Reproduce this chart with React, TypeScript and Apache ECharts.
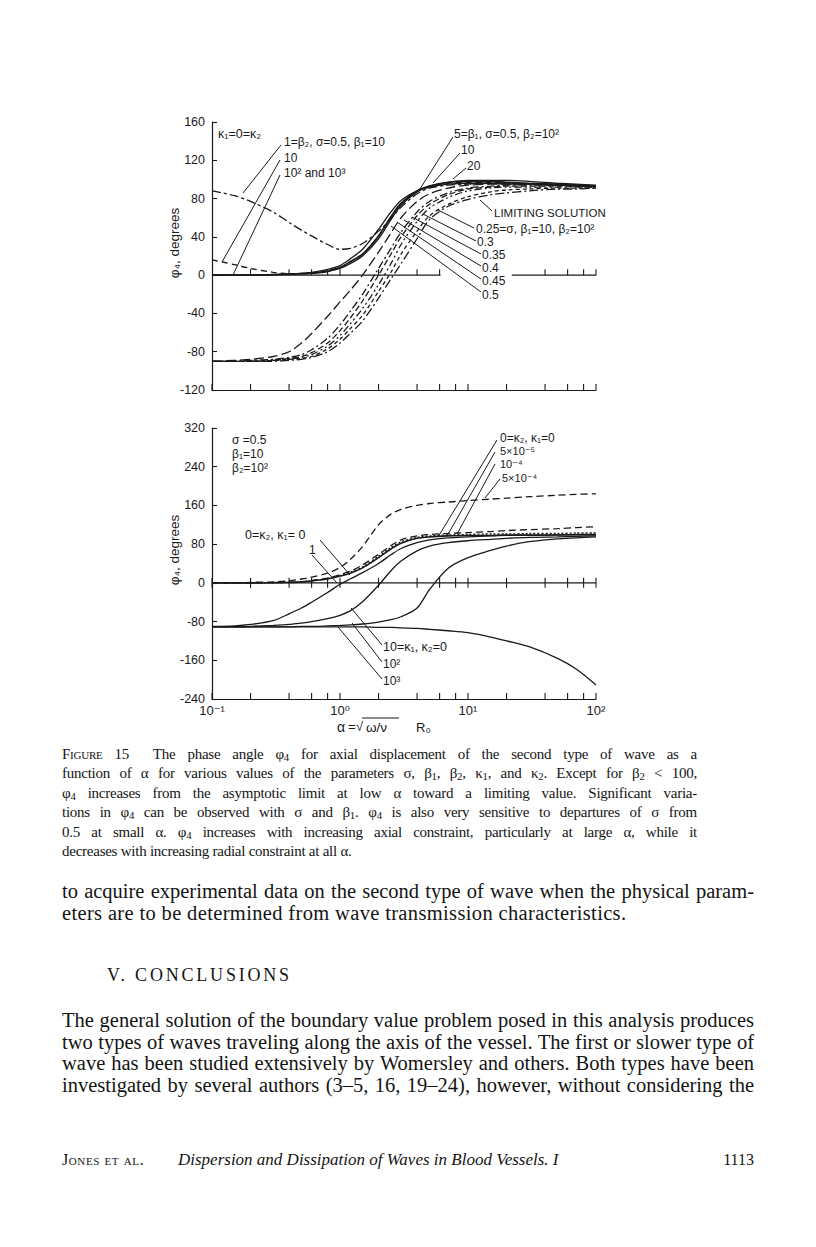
import React, { useEffect, useRef } from 'react';
import * as echarts from 'echarts';

// ---------- data (alpha sample points shared by every curve) ----------
const ALPHA = [0.1, 0.15, 0.2, 0.3, 0.4, 0.5, 0.6, 0.8, 1, 1.2, 1.5, 2, 2.5, 3, 4, 5, 7, 10, 15, 20, 30, 50, 70, 100];

// upper panel: kappa1 = 0 = kappa2
const TOP_BETA2_1 = [88, 83, 77, 66, 55, 47, 41, 32, 27, 28, 33, 46, 59, 71, 85, 91, 94, 95, 96, 96, 95, 94, 94, 93];
const TOP_BETA2_10 = [16, 11, 7, 3, 1.5, 1.5, 2, 5, 8, 14, 22, 41, 61, 75, 88, 92, 96, 97, 97, 96, 95, 94, 93, 92];
const TOP_MAIN = [0, 0, 0, 0.5, 1, 1.5, 2, 4, 8, 14, 22, 41, 61, 75, 88, 93, 97, 98, 98, 97, 96, 95, 94, 93];
const TOP_BETA1_5 = [0, 0, 0, 0.5, 1, 2, 3, 6, 10, 17, 27, 48, 66, 78, 88, 92, 95, 96, 96, 95, 95, 94, 93, 92];
const TOP_BETA1_20 = [0, 0, 0, 0.5, 1, 1.5, 2, 4, 7, 12, 20, 38, 58, 73, 87, 93, 97, 99, 99, 99, 98, 96, 95, 94];
const TOP_SIGMA_045 = [-90, -89, -88, -85, -80, -71, -61, -43, -28, -16, 0, 24, 44, 60, 77, 85, 91, 94, 95, 95, 95, 94, 94, 93];
const TOP_SIGMA_040 = [-90, -90, -89, -88, -86, -83, -78, -66, -52, -38, -20, 7, 28, 45, 66, 77, 86, 91, 93, 94, 94, 94, 93, 93];
const TOP_SIGMA_035 = [-90, -90, -90, -89, -87, -85, -81, -71, -58, -45, -27, 0, 22, 40, 62, 74, 84, 90, 92, 93, 93, 93, 93, 92];
const TOP_SIGMA_030 = [-90, -90, -90, -89, -88, -86, -83, -74, -63, -51, -35, -10, 12, 32, 56, 70, 81, 88, 91, 92, 92, 92, 92, 92];
const TOP_SIGMA_025 = [-90, -90, -90, -89, -88, -87, -85, -77, -67, -56, -42, -17, 3, 22, 46, 62, 74, 82, 87, 89, 90, 91, 91, 91];
const TOP_LIMITING = [-90, -90, -90, -90, -89, -88, -86, -80, -71, -61, -48, -24, -4, 12, 38, 58, 72, 79, 84, 86, 88, 90, 90, 91];

// lower panel: sigma = 0.5, beta1 = 10, beta2 = 10^2
const BOT_MAIN = [0, 0, 0, 0.5, 1, 2, 4, 8, 14, 20, 31, 52, 70, 82, 92, 95, 97, 98, 98, 99, 99, 99, 100, 100];
const BOT_K2_5E5 = [0, 0, 0, 0.5, 1, 2, 4, 9, 15, 22, 33, 55, 73, 85, 94, 97, 99, 100, 101, 101, 102, 102, 103, 103];
const BOT_K2_1E4 = [0, 0, 0, 0.5, 1, 2, 5, 10, 17, 24, 37, 59, 77, 89, 97, 100, 102, 104, 106, 108, 110, 112, 114, 116];
const BOT_K2_5E4 = [0, 0, 1, 2, 4, 8, 12, 20, 32, 48, 75, 120, 142, 152, 160, 164, 167, 170, 173, 175, 178, 181, 183, 184];
const BOT_K1_1 = [-90, -89, -86, -78, -64, -52, -40, -20, -3, 8, 21, 40, 58, 71, 83, 89, 93, 95, 97, 98, 98, 99, 99, 99];
const BOT_K1_10 = [-91, -91, -90, -88, -86, -83, -80, -74, -67, -58, -39, -5, 25, 45, 66, 76, 83, 87, 90, 92, 94, 95, 96, 97];
const BOT_K1_100 = [-91, -91, -91, -91, -91, -90, -90, -89, -88, -87, -85, -81, -76, -70, -52, -14, 30, 52, 67, 76, 85, 91, 93, 95];
const BOT_K1_1000 = [-91, -91, -91, -91, -91, -91, -91, -91, -91, -91, -91, -92, -92, -93, -94, -96, -99, -103, -112, -120, -132, -156, -178, -211];

// axis ticks (alpha positions) and tick labels
const TICK_ALPHAS = [0.1, 0.2, 0.4, 0.6, 0.8, 1, 2, 4, 6, 8, 10, 20, 40, 60, 80, 100];
const TOP_ZERO_TICKS = [0.2, 0.4, 0.6, 0.8, 1, 2, 4, 6, 40, 60, 80, 100];
const TOP_ZERO_SEGMENTS = [[0.1, 0, 6.1], [22, 0, 100]];
const BOT_ZERO_SEGMENTS = [[0.1, 0, 100]];
const X_TICK_LABELS: Record<string, string> = { '-1': '10⁻¹', '0': '10⁰', '1': '10¹', '2': '10²' };
const TOP_Y = { min: -120, max: 160, step: 40 };
const BOT_Y = { min: -240, max: 320, step: 80 };

// ---------- styling ----------
const INK = '#1a1a1a';
const SANS = '"Liberation Sans", "DejaVu Sans", Arial, sans-serif';
const SERIF = '"Liberation Serif", "DejaVu Serif", "Times New Roman", serif';

const pairs = (vals: number[]) => ALPHA.map((a, i) => [a, vals[i]]);

function curve(vals: number[], idx: number, dash: any, width = 1.3) {
  return {
    type: 'line',
    xAxisIndex: idx,
    yAxisIndex: idx,
    data: pairs(vals),
    showSymbol: false,
    smooth: 0.3,
    silent: true,
    clip: true,
    lineStyle: { color: INK, width, type: dash },
    z: 3,
  };
}

function ticks(idx: number, alphas: number[], yv: number, up: number, down: number) {
  return {
    type: 'custom',
    xAxisIndex: idx,
    yAxisIndex: idx,
    silent: true,
    clip: false,
    encode: { x: 0, y: 1 },
    data: alphas.map((a) => [a, yv]),
    renderItem: (_p: any, api: any) => {
      const p = api.coord([api.value(0), api.value(1)]);
      return {
        type: 'line',
        shape: { x1: p[0], y1: p[1] + down, x2: p[0], y2: p[1] - up },
        style: { stroke: INK, lineWidth: 1.1 },
      };
    },
    z: 4,
  };
}

function segments(idx: number, segs: number[][]) {
  return {
    type: 'custom',
    xAxisIndex: idx,
    yAxisIndex: idx,
    silent: true,
    clip: false,
    encode: { x: 0, y: 1 },
    data: segs,
    renderItem: (_p: any, api: any) => {
      const a = api.coord([api.value(0), api.value(1)]);
      const b = api.coord([api.value(2), api.value(1)]);
      return {
        type: 'line',
        shape: { x1: a[0], y1: a[1], x2: b[0], y2: b[1] },
        style: { stroke: INK, lineWidth: 1.2 },
      };
    },
    z: 4,
  };
}

function xAxis(idx: number, labels: boolean) {
  return {
    type: 'log',
    logBase: 10,
    gridIndex: idx,
    min: 0.1,
    max: 100,
    axisLine: { show: true, onZero: false, lineStyle: { color: INK, width: 1.2 } },
    axisTick: { show: false },
    minorTick: { show: false },
    splitLine: { show: false },
    minorSplitLine: { show: false },
    axisLabel: {
      show: labels,
      color: INK,
      fontFamily: SANS,
      fontSize: 13,
      margin: 5,
      formatter: (v: number) => X_TICK_LABELS[String(Math.round(Math.log10(v)))] || '',
    },
  };
}

function yAxis(idx: number, r: { min: number; max: number; step: number }) {
  return {
    type: 'value',
    gridIndex: idx,
    min: r.min,
    max: r.max,
    interval: r.step,
    axisLine: { show: true, onZero: false, lineStyle: { color: INK, width: 1.2 } },
    axisTick: { show: true, inside: true, length: 5, lineStyle: { color: INK, width: 1.1 } },
    splitLine: { show: false },
    axisLabel: { color: INK, fontFamily: SANS, fontSize: 12.5, margin: 7 },
  };
}

// annotation texts [text, x, y, fontSize]
const TOP_NOTES: [string, number, number, number][] = [
  ['κ₁=0=κ₂', 218, 134, 12.5],
  ['1=β₂, σ=0.5, β₁=10', 284, 142, 12],
  ['10', 284, 158, 12],
  ['10² and 10³', 284, 173, 12],
  ['5=β₁, σ=0.5, β₂=10²', 454, 134, 12],
  ['10', 461, 150, 12],
  ['20', 467, 166, 12],
  ['LIMITING SOLUTION', 494, 213, 11.5],
  ['0.25=σ, β₁=10, β₂=10²', 476, 229, 12],
  ['0.3', 477, 242, 12],
  ['0.35', 482, 255, 12],
  ['0.4', 482, 268, 12],
  ['0.45', 482, 281, 12],
  ['0.5', 482, 295, 12],
];
const BOT_NOTES: [string, number, number, number][] = [
  ['σ =0.5', 232, 440, 12],
  ['β₁=10', 232, 454, 12],
  ['β₂=10²', 232, 468, 12],
  ['0=κ₂, κ₁= 0', 245, 535, 12.5],
  ['1', 309, 550, 12],
  ['0=κ₂, κ₁=0', 500, 438, 12],
  ['5×10⁻⁵', 500, 451, 11],
  ['10⁻⁴', 500, 464, 11],
  ['5×10⁻⁴', 502, 478, 11],
  ['10=κ₁, κ₂=0', 383, 647, 12.5],
  ['10²', 383, 664, 12],
  ['10³', 383, 681, 12],
];
// leader lines [x1, y1, x2, y2]
const LEADERS: number[][] = [
  [281, 145, 243, 193],
  [280, 160, 222, 262],
  [280, 175, 233, 275],
  [453, 137, 418, 192],
  [460, 153, 433, 183],
  [466, 168, 453, 179],
  [492, 211, 480, 200],
  [474, 228, 438, 210],
  [476, 241, 423, 214],
  [481, 254, 412, 217],
  [481, 266, 404, 220],
  [481, 279, 397, 222],
  [481, 292, 391, 226],
  [320, 540, 350, 575],
  [312, 555, 337, 583],
  [497, 440, 438, 537],
  [495, 452, 447, 536],
  [495, 464, 457, 534],
  [500, 479, 485, 498],
  [382, 645, 351, 608],
  [382, 662, 352, 623],
  [382, 679, 338, 627],
];

function buildGraphic() {
  const g: any[] = [];
  const txt = (t: string, x: number, y: number, fs: number, extra: any = {}) =>
    g.push({
      type: 'text',
      x,
      y,
      silent: true,
      ...extra,
      style: { text: t, fill: INK, fontSize: fs, fontFamily: SANS, align: 'left', verticalAlign: 'middle', ...(extra.style || {}) },
    });
  [...TOP_NOTES, ...BOT_NOTES].forEach(([t, x, y, fs]) => txt(t, x, y, fs));
  LEADERS.forEach(([x1, y1, x2, y2]) =>
    g.push({ type: 'line', silent: true, shape: { x1, y1, x2, y2 }, style: { stroke: INK, lineWidth: 1 } })
  );
  // y-axis titles
  txt('φ₄, degrees', 174, 243, 13.5, { rotation: Math.PI / 2, style: { align: 'center' } });
  txt('φ₄, degrees', 174, 550, 13.5, { rotation: Math.PI / 2, style: { align: 'center' } });
  // x-axis title  alpha = sqrt(omega/nu) R0
  txt('α', 337, 727, 14);
  txt('=', 348, 726, 13);
  txt('√', 356, 726, 13);
  txt('ω/ν', 366, 727, 13.5);
  g.push({ type: 'line', silent: true, shape: { x1: 362, y1: 718, x2: 399, y2: 718 }, style: { stroke: INK, lineWidth: 1 } });
  txt('R₀', 416, 727, 13);
  return g;
}

// ---------- page text ----------
const Sub = ({ c }: { c: string }) => (
  <span style={{ fontSize: '0.72em', verticalAlign: '-0.18em', lineHeight: 0 }}>{c}</span>
);

const CAPTION_TOPS = [754, 773, 793, 812, 832, 851];
const BODY1_TOPS = [891, 913];
const BODY2_TOPS = [1020, 1042, 1063, 1085];

function Line({ y, left, width, size, lh, justify, align, children, style }: any) {
  const a = justify ? 'justify' : align || 'left';
  return (
    <div
      style={{
        position: 'absolute',
        left,
        top: y - lh / 2,
        width,
        height: lh,
        lineHeight: `${lh}px`,
        fontFamily: SERIF,
        fontSize: size,
        color: '#141414',
        textAlign: a,
        textAlignLast: a,
        whiteSpace: justify ? 'normal' : 'nowrap',
        ...(style || {}),
      }}
    >
      {children}
    </div>
  );
}

export default function App() {
  const ref = useRef<HTMLDivElement>(null);
  useEffect(() => {
    if (!ref.current) return;
    const chart = echarts.init(ref.current, undefined, { renderer: 'svg' });
    chart.setOption({
      animation: false,
      grid: [
        { left: 212, top: 122, width: 384, height: 268, containLabel: false, outerBoundsMode: 'none' },
        { left: 212, top: 428, width: 384, height: 271, containLabel: false, outerBoundsMode: 'none' },
      ],
      xAxis: [xAxis(0, false), xAxis(1, true)],
      yAxis: [yAxis(0, TOP_Y), yAxis(1, BOT_Y)],
      series: [
        curve(TOP_BETA2_1, 0, [9, 3, 3, 3]),
        curve(TOP_BETA2_10, 0, [6, 4]),
        curve(TOP_MAIN, 0, 'solid', 1.7),
        curve(TOP_BETA1_5, 0, 'solid'),
        curve(TOP_BETA1_20, 0, 'solid'),
        curve(TOP_SIGMA_045, 0, [10, 4]),
        curve(TOP_SIGMA_040, 0, [8, 3, 2, 3]),
        curve(TOP_SIGMA_035, 0, [6, 3]),
        curve(TOP_SIGMA_030, 0, [7, 3, 2, 3, 2, 3]),
        curve(TOP_SIGMA_025, 0, [4, 3]),
        curve(TOP_LIMITING, 0, [9, 3, 2, 3]),
        segments(0, TOP_ZERO_SEGMENTS),
        ticks(0, TOP_ZERO_TICKS, 0, 6, 0),
        ticks(0, TICK_ALPHAS, TOP_Y.min, 6, 0),

        curve(BOT_MAIN, 1, 'solid', 1.6),
        curve(BOT_K2_5E5, 1, [2, 2]),
        curve(BOT_K2_1E4, 1, [7, 4]),
        curve(BOT_K2_5E4, 1, [7, 4]),
        curve(BOT_K1_1, 1, 'solid'),
        curve(BOT_K1_10, 1, 'solid'),
        curve(BOT_K1_100, 1, 'solid'),
        curve(BOT_K1_1000, 1, 'solid'),
        segments(1, BOT_ZERO_SEGMENTS),
        ticks(1, TICK_ALPHAS, 0, 5, 5),
        ticks(1, TICK_ALPHAS, BOT_Y.min, 6, 0),
      ],
      graphic: buildGraphic(),
    });
    return () => chart.dispose();
  }, []);

  const cap = { left: 62, width: 635, size: 15, lh: 19, style: { letterSpacing: '-0.25px' } };
  const body = { left: 62, width: 692, size: 20.5, lh: 22 };

  return (
    <div style={{ position: 'absolute', left: 0, top: 0, width: 816, height: 1247, background: '#fff', overflow: 'hidden' }}>
      <div ref={ref} style={{ position: 'absolute', left: 0, top: 0, width: 816, height: 1247 }} />

      <Line y={CAPTION_TOPS[0]} {...cap} justify>
        <span style={{ fontVariant: 'small-caps' }}>Figure</span> 15&nbsp;&nbsp;The phase angle φ<Sub c="4" /> for axial displacement of the second type of wave as a
      </Line>
      <Line y={CAPTION_TOPS[1]} {...cap} justify>
        function of α for various values of the parameters σ, β<Sub c="1" />, β<Sub c="2" />, κ<Sub c="1" />, and κ<Sub c="2" />. Except for β<Sub c="2" /> &lt; 100,
      </Line>
      <Line y={CAPTION_TOPS[2]} {...cap} justify>
        φ<Sub c="4" /> increases from the asymptotic limit at low α toward a limiting value. Significant varia-
      </Line>
      <Line y={CAPTION_TOPS[3]} {...cap} justify>
        tions in φ<Sub c="4" /> can be observed with σ and β<Sub c="1" />. φ<Sub c="4" /> is also very sensitive to departures of σ from
      </Line>
      <Line y={CAPTION_TOPS[4]} {...cap} justify>
        0.5 at small α. φ<Sub c="4" /> increases with increasing axial constraint, particularly at large α, while it
      </Line>
      <Line y={CAPTION_TOPS[5]} {...cap}>
        decreases with increasing radial constraint at all α.
      </Line>

      <Line y={BODY1_TOPS[0]} {...body} justify>
        to acquire experimental data on the second type of wave when the physical param-
      </Line>
      <Line y={BODY1_TOPS[1]} {...body} style={{ letterSpacing: '0.35px' }}>
        eters are to be determined from wave transmission characteristics.
      </Line>

      <Line y={975} left={107} width={400} size={18} lh={22} style={{ letterSpacing: '2.8px' }}>
        V. CONCLUSIONS
      </Line>

      <Line y={BODY2_TOPS[0]} {...body} justify>
        The general solution of the boundary value problem posed in this analysis produces
      </Line>
      <Line y={BODY2_TOPS[1]} {...body} justify>
        two types of waves traveling along the axis of the vessel. The first or slower type of
      </Line>
      <Line y={BODY2_TOPS[2]} {...body} justify>
        wave has been studied extensively by Womersley and others. Both types have been
      </Line>
      <Line y={BODY2_TOPS[3]} {...body} justify>
        investigated by several authors (3–5, 16, 19–24), however, without considering the
      </Line>

      <Line y={1160} left={62} width={120} size={16} lh={22} style={{ fontVariant: 'small-caps', letterSpacing: '0.6px' }}>
        Jones et al.
      </Line>
      <Line y={1160} left={178} width={420} size={17} lh={22} style={{ fontStyle: 'italic' }}>
        Dispersion and Dissipation of Waves in Blood Vessels. I
      </Line>
      <Line y={1160} left={654} width={100} size={16} lh={22} align="right">
        1113
      </Line>
    </div>
  );
}
